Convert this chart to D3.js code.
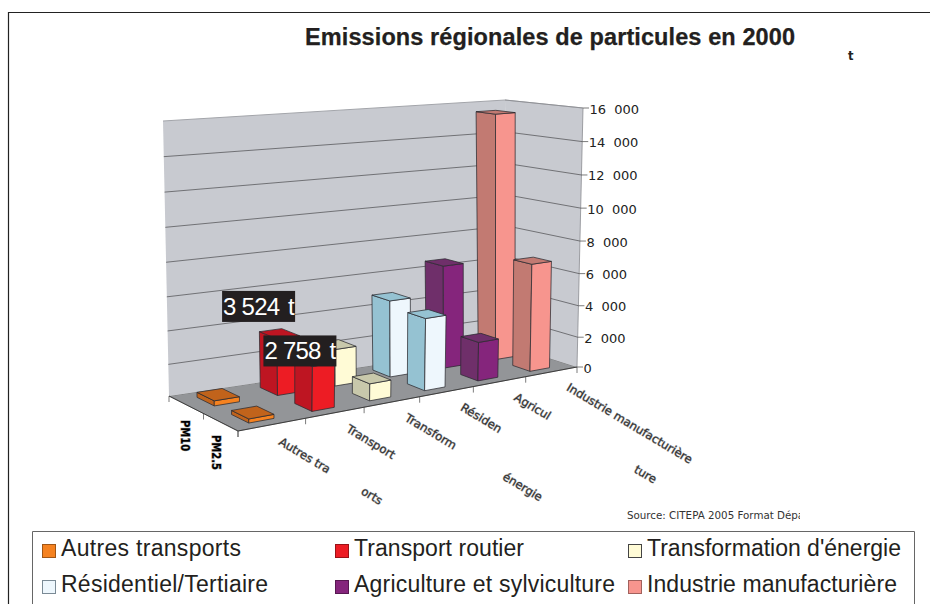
<!DOCTYPE html>
<html><head><meta charset="utf-8">
<style>html,body{margin:0;padding:0;background:#fff}svg{display:block}</style>
<script src="https://cdn.jsdelivr.net/npm/d3@7"></script></head>
<body><svg id="c" width="930" height="604"></svg>
<script>
const categories = ["Autres transports","Transport routier","Transformation d'énergie","Résidentiel/Tertiaire","Agriculture et sylviculture","Industrie manufacturière"];
const rows = ["PM10","PM2.5"];
const valuesPM10 = [340,3524,2350,4850,6550,15500];
const valuesPM25 = [270,2758,1100,4500,2500,6800];
const labelHeads = ["Autres tra","Transport","Transform","Résiden","Agricul","Industrie manufacturière"];
const labelTails = ["orts","","énergie","","ture",""];
const yTicks = [0,2000,4000,6000,8000,10000,12000,14000,16000];
const frontColors = ["#f58220","#ed1c24","#fffbd6","#eef7fd","#85257c","#f7958e"];
const sideColors  = ["#c1631b","#be1522","#c8c8ab","#95c2d2","#6f2f6a","#c27a72"];

const svg = d3.select("#c");
const defs = svg.append("defs");
defs.append("clipPath").attr("id","srcClip").append("rect").attr("x",600).attr("y",500).attr("width",200).attr("height",30);

// 3D box: u along categories, v depth (0 front, 1 back), w height
const P = {
  fl0:[238,431], fr0:[577,367], bl0:[169,396], br0:[508,345],
  fl1:[241,142], fr1:[583,108], bl1:[163,121], br1:[505,100]
};
const lerp=(a,b,t)=>[a[0]+(b[0]-a[0])*t,a[1]+(b[1]-a[1])*t];
function project(u,v,w){
  const f0=lerp(P.fl0,P.fr0,u), b0=lerp(P.bl0,P.br0,u), f1=lerp(P.fl1,P.fr1,u), b1=lerp(P.bl1,P.br1,u);
  return lerp(lerp(f0,b0,v),lerp(f1,b1,v),w);
}
const uScale = d3.scalePow().exponent(0.9).domain([0,categories.length]).range([0,1]);
const vScale = d3.scaleBand().domain(["PM2.5","PM10"]).range([0,1]);
const wScale = d3.scalePow().exponent(1.04).domain([0,16000]).range([0,1]);
const fmt = d3.formatLocale({decimal:",",thousands:"\u00a0\u00a0",grouping:[3],currency:["",""]}).format(",d");
const line = d3.line();
const poly = pts => line(pts)+"Z";

// frame
svg.append("path").attr("d","M8.5,604V12.5H930").attr("fill","none").attr("stroke","#222").attr("stroke-width",1.2);

// walls + floor
const g = svg.append("g");
g.append("path").attr("d",poly([project(0,1,0),project(1,1,0),project(1,0,0),project(0,0,0)])).attr("fill","#939598").attr("stroke","#666").attr("stroke-width",.6);
g.append("path").attr("d",poly([project(0,1,0),project(0,1,1),project(1,1,1),project(1,1,0)])).attr("fill","#c8cad0");
g.append("path").attr("d",poly([project(1,1,0),project(1,1,1),project(1,0,1),project(1,0,0)])).attr("fill","#c8cad0");
g.append("path").attr("d",line([project(0,1,1),project(1,1,1),project(1,0,1)])).attr("fill","none").attr("stroke","#a3a5aa").attr("stroke-width",1);
g.append("path").attr("d",line([project(1,1,1),project(1,0,1),project(1,0,0)])).attr("fill","none").attr("stroke","#8a8c90").attr("stroke-width",.8);
// gridlines
g.selectAll("path.grid").data(yTicks.slice(1,-1)).join("path").attr("class","grid")
  .attr("d",d=>line([project(0,1,wScale(d)),project(1,1,wScale(d)),project(1,0,wScale(d))]))
  .attr("fill","none").attr("stroke","#4a4a4e").attr("stroke-width",.7);
// floor front edges
g.append("path").attr("d",line([project(0,1,0),project(0,0,0),project(1,0,0)])).attr("fill","none").attr("stroke","#333").attr("stroke-width",.9);

// ticks
const tg = svg.append("g").attr("stroke","#444").attr("stroke-width",.7);
yTicks.forEach(d=>{const p=project(1,0,wScale(d));
  tg.append("line").attr("x1",p[0]).attr("y1",p[1]).attr("x2",p[0]+6).attr("y2",p[1]);});
d3.range(categories.length+1).forEach(i=>{const p=project(uScale(i),0,0);
  tg.append("line").attr("x1",p[0]).attr("y1",p[1]).attr("x2",p[0]).attr("y2",p[1]+6);});
[0,.5,1].forEach(v=>{const p=project(0,v,0);
  tg.append("line").attr("x1",p[0]).attr("y1",p[1]).attr("x2",p[0]).attr("y2",p[1]+6);});

// tick labels
svg.append("g").selectAll("text").data(yTicks).join("text")
  .attr("x",d=>project(1,0,wScale(d))[0]+6.5).attr("y",d=>project(1,0,wScale(d))[1]+5.5)
  .attr("font-family","DejaVu Sans").attr("font-size",13).attr("fill","#222").text(d=>fmt(d));

// bars
const gapStart=.25, barW=.38, depthStart=.25, depthW=.5;
function drawBar(parent,i,row,val){
  const u0=uScale(i+gapStart), u1=uScale(i+gapStart+barW);
  const band=vScale.bandwidth(), v0=vScale(row)+band*depthStart, v1=v0+band*depthW;
  const w=wScale(val);
  const bar=parent.append("g").attr("stroke","#2b2b30").attr("stroke-width",.75).attr("stroke-linejoin","round");
  bar.append("path").attr("d",poly([project(u0,v1,0),project(u0,v0,0),project(u0,v0,w),project(u0,v1,w)])).attr("fill",sideColors[i]);
  bar.append("path").attr("d",poly([project(u0,v0,0),project(u1,v0,0),project(u1,v0,w),project(u0,v0,w)])).attr("fill",frontColors[i]);
  bar.append("path").attr("d",poly([project(u0,v0,w),project(u1,v0,w),project(u1,v1,w),project(u0,v1,w)])).attr("fill",sideColors[i]);
  return project(u0,v0,w);
}
const gb=svg.append("g");
const tops={};
categories.forEach((c,i)=>{tops["PM10"+i]=drawBar(gb,i,"PM10",valuesPM10[i]);});
categories.forEach((c,i)=>{tops["PM2.5"+i]=drawBar(gb,i,"PM2.5",valuesPM25[i]);});

// data labels
function dataLabel(p,val){
  const lg=svg.append("g").attr("transform",`translate(${p[0]},${p[1]})`)
    .attr("font-family","Liberation Sans").attr("font-size",24).attr("fill","#fff");
  lg.append("rect").attr("x",0).attr("y",0).attr("width",73).attr("height",31).attr("fill","#231f20");
  lg.append("text").attr("x",1).attr("y",24).attr("textLength",57).attr("lengthAdjust","spacing").text(val.replace(/\u00a0\u00a0/," "));
  lg.append("text").attr("x",66).attr("y",24).text("t");
}
const t1=tops["PM101"], t2=tops["PM2.51"];
dataLabel([t1[0]-55,t1[1]-48],fmt(valuesPM10[1]));
dataLabel([t2[0]-49,t2[1]-31],fmt(valuesPM25[1]));

// category labels: soft halo imitates the reference's degraded rendering
const cg=svg.append("g").attr("stroke","#aaa").attr("stroke-width",.9).attr("paint-order","stroke");
const tailOffsets=[96,0,114,0,140,0];
categories.forEach((c,i)=>{
  const p=project(uScale(i),0,0);
  const t=cg.append("text").attr("transform",`translate(${p[0]+40},${p[1]+13}) rotate(31)`)
    .attr("font-family","DejaVu Sans").attr("font-size",11.6).attr("fill","#333");
  t.append("tspan").text(labelHeads[i]);
  if(labelTails[i]) t.append("tspan").attr("x",tailOffsets[i]).text(labelTails[i]);
});
// row labels
rows.forEach((r,i)=>{
  cg.append("text").attr("transform",`translate(${[181,212][i]},${[420,435][i]}) rotate(90) scale(1,1.2)`)
    .attr("font-family","DejaVu Sans").attr("font-weight","bold").attr("font-size",10).attr("fill","#000").text(r);
});

// title etc
svg.append("text").attr("x",305).attr("y",45).attr("font-family","Liberation Sans").attr("font-weight","bold")
  .attr("font-size",23.5).attr("fill","#231f20").attr("stroke","#231f20").attr("stroke-width",.25).attr("textLength",490).attr("lengthAdjust","spacing").text("Emissions régionales de particules en 2000");
svg.append("text").attr("x",848).attr("y",60).attr("font-family","DejaVu Sans").attr("font-weight","bold").attr("font-size",11.5).attr("fill","#222").text("t");
svg.append("text").attr("x",627).attr("y",519).attr("clip-path","url(#srcClip)").attr("font-family","DejaVu Sans").attr("font-size",10.3).attr("fill","#333").text("Source: CITEPA 2005 Format Départemental");

// legend
svg.append("path").attr("d","M32.5,604V531.5H914.5V604").attr("fill","none").attr("stroke","#666").attr("stroke-width",1);
const legendCols=[42,335,628], legendRows=[544,580], legendWidths=[180,170,254,207,261,250];
categories.forEach((c,i)=>{
  const x=legendCols[i%3], y=legendRows[Math.floor(i/3)];
  svg.append("rect").attr("x",x+.5).attr("y",y+.5).attr("width",13).attr("height",13).attr("fill",frontColors[i]).attr("stroke",i==2?"#444":i==3?"#7a8a95":d3.color(frontColors[i]).darker(1.2)).attr("stroke-width",1);
  svg.append("text").attr("x",x+19).attr("y",y+12).attr("font-family","Liberation Sans").attr("font-size",23).attr("fill","#231f20").attr("textLength",legendWidths[i]).attr("lengthAdjust","spacing").text(c);
});
</script></body></html>
